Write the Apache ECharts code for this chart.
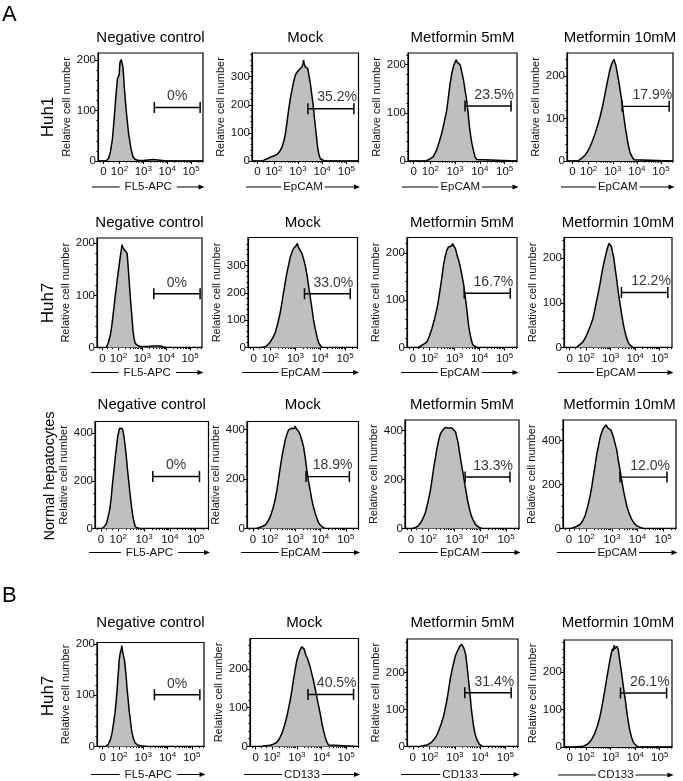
<!DOCTYPE html>
<html><head><meta charset="utf-8">
<script src="https://cdn.jsdelivr.net/npm/echarts@6/dist/echarts.min.js"></script>
<style>html,body{margin:0;padding:0;background:#fff}#c{width:683px;height:781px}</style>
</head><body><div id="c"></div>
<script>
const FONT = 'Liberation Sans, Arial, Helvetica, sans-serif';
const COL_TITLES = ['Negative control','Mock','Metformin 5mM','Metformin 10mM'];
const ROW_LABELS = ['Huh1','Huh7','Normal hepatocytes','Huh7'];
const SECTION_LETTERS = ['A','B'];
const MARKERS = ['FL5-APC','EpCAM','EpCAM','EpCAM','FL5-APC','EpCAM','EpCAM','EpCAM','FL5-APC','EpCAM','EpCAM','EpCAM','FL5-APC','CD133','CD133','CD133'];
const X_TICKS = [1.33,2,3,4,5];
const X_TICK_BASE = ['0','10','10','10','10'];
const X_TICK_EXP = ['','2','3','4','5'];
const Y_MAX = [214,384,224,255, 210,403,233,246, 449,433,443,494, 203,278,290,285];
const Y_TICKS = [[0,100,200],[0,100,200,300],[0,100,200],[0,100,200],
  [0,100,200],[0,100,200,300],[0,100,200],[0,100,200],
  [0,200,400],[0,200,400],[0,200,400],[0,200,400],
  [0,100,200],[0,100,200],[0,100,200],[0,100,200]];
const GATE_START = [3.46,3.41,3.40,3.39, 3.48,3.37,3.39,3.44, 3.34,3.43,3.42,3.32, 3.46,3.45,3.39,3.40];
const GATE_END = [5.38,5.31,5.26,5.34, 5.42,5.21,5.23,5.33, 5.15,5.14,5.15,5.15, 5.33,5.30,5.23,5.28];
const GATE_Y = [106,186,114,129, 103,197,115,123, 218,210,210,234, 101,134,145,144];
const GATE_TEXT = ['0%','35.2%','23.5%','17.9%','0%','33.0%','16.7%','12.2%','0%','18.9%','13.3%','12.0%','0%','40.5%','31.4%','26.1%'];

const h1 = [[1.1,0],[1.45,0],[1.55,6],[1.62,18],[1.70,42],[1.75,68],[1.82,110],[1.87,140],[1.92,164],[1.96,168],[1.99,172],[2.02,195],[2.05,192],[2.075,201],[2.1,198],[2.15,185],[2.2,147],[2.28,101],[2.38,55],[2.48,25],[2.56,9],[2.66,3],[2.8,1],[3.0,1],[3.2,2],[3.4,3],[3.6,2],[3.8,1],[4.0,0],[5.5,0]];
const h2 = [[1.1,0],[1.5,0],[1.6,3],[1.75,9],[1.86,14],[2.0,18],[2.13,23],[2.25,35],[2.34,49],[2.42,72],[2.48,97],[2.55,140],[2.61,180],[2.68,220],[2.75,252],[2.82,282],[2.89,305],[2.96,316],[3.03,323],[3.07,326],[3.1,332],[3.13,329],[3.17,335],[3.2,345],[3.23,359],[3.26,345],[3.30,335],[3.35,332],[3.40,329],[3.45,305],[3.51,276],[3.56,242],[3.62,204],[3.67,160],[3.72,121],[3.77,82],[3.81,49],[3.86,25],[3.92,8],[4.0,2],[4.1,0],[5.5,0]];
const h3 = [[1.1,0],[1.8,0],[1.95,3],[2.12,9],[2.25,22],[2.35,38],[2.46,57],[2.56,80],[2.66,105],[2.73,132],[2.80,161],[2.87,182],[2.93,195],[2.98,203],[3.02,207],[3.05,210],[3.08,205],[3.12,207],[3.16,203],[3.2,200],[3.27,185],[3.34,168],[3.40,148],[3.47,126],[3.53,98],[3.58,71],[3.63,52],[3.68,36],[3.75,20],[3.81,8],[3.88,3],[3.95,0],[5.5,0]];
const h4 = [[1.1,0],[1.55,0],[1.63,3],[1.74,8],[1.84,13],[1.95,22],[2.05,33],[2.16,48],[2.26,64],[2.37,84],[2.47,104],[2.58,130],[2.68,159],[2.77,185],[2.86,210],[2.93,225],[2.99,234],[3.03,237],[3.06,240],[3.09,232],[3.13,226],[3.18,210],[3.24,191],[3.31,165],[3.39,136],[3.45,108],[3.52,80],[3.59,55],[3.66,33],[3.73,18],[3.81,9],[3.88,3],[3.94,0],[5.5,0]];
const h5 = [[1.1,0],[1.49,0],[1.58,10],[1.66,24],[1.73,45],[1.79,69],[1.86,97],[1.94,127],[2.0,148],[2.05,165],[2.1,182],[2.13,190],[2.15,197],[2.18,192],[2.21,191],[2.25,187],[2.28,185],[2.32,184],[2.36,181],[2.39,165],[2.42,146],[2.47,113],[2.52,82],[2.57,55],[2.61,31],[2.66,16],[2.70,8],[2.8,4],[2.91,2],[3.2,2],[3.5,3],[3.75,3],[3.9,1],[4.0,0],[5.5,0]];
const h6 = [[1.1,0],[1.6,0],[1.79,3],[1.9,10],[1.99,20],[2.1,36],[2.20,56],[2.30,90],[2.40,130],[2.47,168],[2.53,203],[2.60,240],[2.67,277],[2.74,305],[2.80,332],[2.87,350],[2.93,363],[2.98,368],[3.02,372],[3.04,375],[3.07,370],[3.09,381],[3.12,368],[3.17,363],[3.22,352],[3.27,344],[3.33,325],[3.40,301],[3.47,266],[3.53,228],[3.60,185],[3.67,142],[3.73,103],[3.80,69],[3.87,40],[3.93,20],[4.0,8],[4.07,0],[5.5,0]];
const h7 = [[1.1,0],[1.55,0],[1.63,3],[1.77,7],[1.90,12],[2.0,25],[2.10,41],[2.20,60],[2.30,83],[2.37,104],[2.43,125],[2.50,150],[2.56,175],[2.63,193],[2.70,207],[2.76,213],[2.83,217],[2.88,215],[2.92,220],[2.96,221],[3.0,216],[3.04,209],[3.10,196],[3.17,184],[3.23,171],[3.30,152],[3.37,132],[3.42,111],[3.47,90],[3.52,68],[3.56,48],[3.61,32],[3.66,19],[3.71,9],[3.76,4],[3.90,0],[5.5,0]];
const h8 = [[1.1,0],[1.6,0],[1.67,3],[1.78,8],[1.88,13],[1.98,23],[2.08,35],[2.18,49],[2.28,65],[2.35,83],[2.42,102],[2.49,121],[2.56,140],[2.62,160],[2.69,181],[2.76,198],[2.83,214],[2.89,226],[2.94,233],[2.98,229],[3.03,226],[3.08,212],[3.13,200],[3.18,178],[3.24,155],[3.30,128],[3.37,102],[3.44,77],[3.51,54],[3.58,36],[3.65,21],[3.72,11],[3.78,6],[3.92,0],[5.5,0]];
const h9 = [[1.1,0],[1.37,0],[1.46,8],[1.54,20],[1.60,45],[1.67,78],[1.73,130],[1.78,190],[1.84,250],[1.89,302],[1.94,350],[1.98,386],[2.02,405],[2.05,421],[2.08,418],[2.12,428],[2.15,420],[2.19,407],[2.23,380],[2.27,344],[2.32,295],[2.36,246],[2.42,185],[2.47,134],[2.52,88],[2.57,50],[2.62,24],[2.66,8],[2.75,2],[2.85,0],[5.5,0]];
const h10 = [[1.1,0],[1.45,0],[1.56,3],[1.70,8],[1.82,14],[1.92,28],[2.02,48],[2.12,80],[2.21,116],[2.28,155],[2.34,197],[2.41,245],[2.48,291],[2.55,328],[2.61,359],[2.68,382],[2.74,399],[2.80,403],[2.87,406],[2.92,410],[2.96,404],[3.0,415],[3.04,405],[3.09,399],[3.14,392],[3.20,379],[3.26,358],[3.33,332],[3.40,285],[3.46,237],[3.52,195],[3.59,156],[3.65,120],[3.72,88],[3.79,62],[3.86,41],[3.92,25],[3.99,14],[4.08,5],[4.18,0],[5.5,0]];
const h11 = [[1.1,0],[1.40,0],[1.50,4],[1.60,10],[1.69,21],[1.78,38],[1.88,62],[1.98,105],[2.08,156],[2.15,205],[2.21,250],[2.28,292],[2.34,331],[2.40,360],[2.46,385],[2.53,398],[2.59,406],[2.65,412],[2.72,419],[2.78,410],[2.85,406],[2.91,410],[2.98,412],[3.05,395],[3.10,372],[3.15,350],[3.20,315],[3.25,280],[3.30,250],[3.35,220],[3.41,180],[3.47,142],[3.53,106],[3.60,75],[3.66,52],[3.73,34],[3.82,17],[3.92,7],[4.02,2],[4.11,0],[5.5,0]];
const h12 = [[1.1,0],[1.40,0],[1.49,3],[1.62,9],[1.75,17],[1.85,32],[1.95,55],[2.05,95],[2.15,145],[2.22,190],[2.28,236],[2.35,286],[2.41,335],[2.48,375],[2.54,411],[2.60,436],[2.67,456],[2.72,462],[2.77,471],[2.82,462],[2.86,456],[2.91,452],[2.96,449],[3.01,434],[3.06,418],[3.12,390],[3.19,358],[3.25,312],[3.32,267],[3.38,222],[3.45,176],[3.52,136],[3.59,100],[3.68,67],[3.78,40],[3.88,22],[3.98,12],[4.10,5],[4.24,0],[5.5,0]];
const h13 = [[1.1,0],[1.48,0],[1.57,5],[1.65,13],[1.72,27],[1.78,45],[1.84,66],[1.89,90],[1.93,112],[1.96,135],[1.99,152],[2.01,168],[2.05,181],[2.08,178],[2.10,190],[2.12,197],[2.15,186],[2.19,177],[2.23,168],[2.26,155],[2.30,136],[2.33,116],[2.38,92],[2.42,71],[2.48,48],[2.53,29],[2.60,15],[2.67,7],[2.77,3],[2.87,2],[3.0,1],[3.2,0],[5.5,0]];
const h14 = [[1.1,0],[1.5,0],[1.64,1],[1.91,3],[2.05,6],[2.19,11],[2.29,20],[2.39,33],[2.49,52],[2.59,76],[2.66,97],[2.73,119],[2.80,145],[2.86,171],[2.93,197],[3.00,222],[3.05,233],[3.10,244],[3.15,251],[3.20,257],[3.24,255],[3.27,261],[3.30,250],[3.34,240],[3.38,233],[3.43,227],[3.48,216],[3.54,205],[3.60,189],[3.67,171],[3.74,150],[3.81,127],[3.88,105],[3.95,84],[4.01,62],[4.08,41],[4.15,24],[4.22,11],[4.28,4],[4.35,0],[5.5,0]];
const h15 = [[1.1,0],[1.5,0],[1.63,1],[1.89,4],[2.03,9],[2.16,18],[2.26,28],[2.35,41],[2.45,60],[2.55,82],[2.62,104],[2.69,128],[2.76,158],[2.82,185],[2.89,208],[2.95,226],[3.02,245],[3.08,255],[3.13,262],[3.19,270],[3.23,268],[3.26,276],[3.29,272],[3.32,278],[3.35,266],[3.38,262],[3.42,250],[3.45,235],[3.50,205],[3.55,172],[3.60,140],[3.64,108],[3.69,80],[3.74,54],[3.80,33],[3.88,17],[3.96,7],[4.08,0],[5.5,0]];
const h16 = [[1.1,0],[1.5,0],[1.61,1],[1.88,2],[2.02,6],[2.15,13],[2.25,23],[2.35,36],[2.46,56],[2.56,80],[2.63,102],[2.69,124],[2.76,150],[2.83,178],[2.90,205],[2.97,231],[3.03,250],[3.08,262],[3.11,256],[3.14,271],[3.18,262],[3.21,258],[3.25,268],[3.28,271],[3.31,260],[3.34,245],[3.39,222],[3.44,200],[3.49,175],[3.54,151],[3.60,124],[3.65,98],[3.71,70],[3.78,45],[3.85,26],[3.92,13],[4.02,5],[4.12,0],[5.5,0]];
const HISTS = [h1,h2,h3,h4,h5,h6,h7,h8,h9,h10,h11,h12,h13,h14,h15,h16];

// ---- layout (pixels) ----
const X_MIN = 1.1, X_MAX = 5.5;
const BOX = [
 [98,53,105,108],[252,53,106.5,108],[408,53,109,108],[567,53,106,108],
 [97,238,105,109.5],[248,237.5,109.5,110],[407,237.5,110,110],[564,237.5,108,110],
 [95,421.5,113.5,107],[247,421.5,111.5,107],[405,420,114,108.5],[563,420,113,108.5],
 [97,642.5,107,104],[250,638.5,108.5,108],[407,639,111,107.5],[564,640,108,107]
];
const TITLE_Y = [38,223,405,623];
const NAME_GAP_ROW = [26,25,24,28];
const ROW_LABEL_POS = [[48,117,17],[48,303,17],[50,476,14.5],[48,696,17]];
const LETTER_POS = [[2,15],[2,596]];

const xMinor = [];
[2,3,4,5].forEach(d => { for (let k = 2; k <= 9; k++) { const v = d + Math.log10(k); if (v < X_MAX) xMinor.push(v); } });
xMinor.push(1.2, 1.55, 1.75);

const option = {animation:false, backgroundColor:'#fff', grid:[], xAxis:[], yAxis:[], series:[], graphic:[]};
const black = '#000';

HISTS.forEach((hist, i) => {
  const [l,t,w,h] = BOX[i];
  const row = Math.floor(i / 4), col = i % 4;
  option.grid.push({left:l, top:t, width:w, height:h, show:true, borderColor:black, borderWidth:1.2, backgroundColor:'transparent'});
  option.xAxis.push({
    gridIndex:i, type:'value', position:'bottom', min:X_MIN, max:X_MAX,
    axisLine:{show:true, onZero:false, lineStyle:{color:black, width:1.2}},
    splitLine:{show:false},
    axisTick:{show:true, customValues:X_TICKS, length:3, lineStyle:{color:black, width:1}},
    axisLabel:{show:true, customValues:X_TICKS, margin:4, color:black,
      formatter: v => { const k = X_TICKS.findIndex(x => Math.abs(x - v) < 1e-6); if (k < 0) return '';
        return X_TICK_EXP[k] ? '{b|' + X_TICK_BASE[k] + '}{s|' + X_TICK_EXP[k] + '}' : '{b|' + X_TICK_BASE[k] + '}'; },
      rich:{ b:{fontSize:11.5, fontFamily:FONT, color:'#111', lineHeight:14}, s:{fontSize:8, fontFamily:FONT, color:'#111', lineHeight:8, verticalAlign:'top'} }
    }
  });
  option.xAxis.push({
    gridIndex:i, type:'value', position:'bottom', min:X_MIN, max:X_MAX,
    axisLine:{show:false}, splitLine:{show:false}, axisLabel:{show:false},
    axisTick:{show:true, customValues:xMinor, length:1.6, lineStyle:{color:black, width:1}}
  });
  const yt = Y_TICKS[i];
  const step = yt[1] - yt[0];
  const mstep = step === 200 ? 50 : 20;
  const yMinor = [];
  for (let v = mstep; v < Y_MAX[i]; v += mstep) if (v % step !== 0) yMinor.push(v);
  option.yAxis.push({
    gridIndex:i, type:'value', position:'left', min:0, max:Y_MAX[i],
    name:'Relative cell number', nameLocation:'middle', nameGap:23,
    nameTextStyle:{fontSize:11, fontFamily:FONT, color:'#111'},
    axisLine:{show:true, onZero:false, lineStyle:{color:black, width:1.2}},
    splitLine:{show:false},
    axisTick:{show:true, customValues:yt, length:3, lineStyle:{color:black, width:1}},
    axisLabel:{show:true, customValues:yt, margin:2, fontSize:11.5, fontFamily:FONT, color:'#111'}
  });
  option.yAxis.push({
    gridIndex:i, type:'value', position:'left', min:0, max:Y_MAX[i],
    axisLine:{show:false}, splitLine:{show:false}, axisLabel:{show:false},
    axisTick:{show:true, customValues:yMinor, length:1.6, lineStyle:{color:black, width:1}}
  });
  const xi = 2*i, yi = 2*i;
  option.series.push({
    type:'line', xAxisIndex:xi, yAxisIndex:yi, data:hist, symbol:'none', smooth:false,
    lineStyle:{color:black, width:1.5}, areaStyle:{color:'#bfbfbf', opacity:1}, z:2, silent:true
  });
  option.series.push({
    type:'line', xAxisIndex:xi, yAxisIndex:yi,
    data:[[GATE_START[i], GATE_Y[i]],[GATE_END[i], GATE_Y[i]]],
    symbol:'rect', symbolSize:[1.5,11], showSymbol:true, itemStyle:{color:black},
    lineStyle:{color:black, width:1.4}, z:3, silent:true
  });
  const zero = GATE_TEXT[i] === '0%';
  option.series.push({
    type:'scatter', xAxisIndex:xi, yAxisIndex:yi,
    data:[[zero ? (GATE_START[i] + GATE_END[i]) / 2 : GATE_END[i], GATE_Y[i]]],
    symbolSize:0.1, itemStyle:{color:'transparent'}, z:4, silent:true,
    label:{show:true, position:'top', distance:4, formatter:GATE_TEXT[i], align: zero ? 'center' : 'right',
      offset:[zero ? 0 : 3, 0], fontSize:14, fontFamily:FONT, color:black}
  });
  option.graphic.push({type:'text', x:l + w/2, y:TITLE_Y[row],
    style:{text:COL_TITLES[col], fontSize:15, fontFamily:FONT, fill:black, align:'center', verticalAlign:'middle'}});
  const ly = t + h + NAME_GAP_ROW[row], x1 = l - 6, x2 = l + w + 1.5;
  option.graphic.push({type:'line', shape:{x1:x1, y1:ly, x2:x2 - 4, y2:ly}, style:{stroke:black, lineWidth:1.1}, z:1});
  option.graphic.push({type:'polygon', shape:{points:[[x2, ly],[x2 - 6, ly - 2.5],[x2 - 6, ly + 2.5]]}, style:{fill:black}, z:1});
  option.graphic.push({type:'text', x:(x1 + x2)/2, y:ly, z:5,
    style:{text:MARKERS[i], fontSize:11.5, fontFamily:FONT, fill:'#111', align:'center', verticalAlign:'middle',
      backgroundColor:'#fff', padding:[1, MARKERS[i] === 'FL5-APC' ? 5 : 2]}});
});

ROW_LABELS.forEach((s, r) => {
  const [x, y, fs] = ROW_LABEL_POS[r];
  option.graphic.push({type:'text', x:x, y:y, rotation:Math.PI/2,
    style:{text:s, fontSize:fs, fontFamily:FONT, fill:black, align:'center', verticalAlign:'middle'}});
});
SECTION_LETTERS.forEach((s, k) => {
  const [x, y] = LETTER_POS[k];
  option.graphic.push({type:'text', x:x, y:y,
    style:{text:s, fontSize:22, fontFamily:FONT, fill:black, align:'left', verticalAlign:'middle'}});
});

const chart = echarts.init(document.getElementById('c'), null, {renderer:'canvas'});
chart.setOption(option);
</script></body></html>
